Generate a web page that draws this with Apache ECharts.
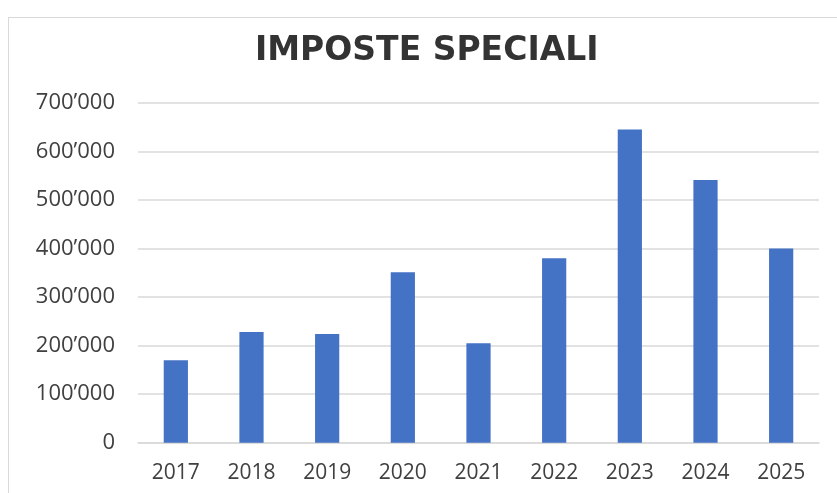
<!DOCTYPE html>
<html>
<head>
<meta charset="utf-8">
<script src="https://cdn.jsdelivr.net/npm/echarts@6/dist/echarts.min.js"></script>
<style>
  html,body{margin:0;padding:0;background:#fff;}
  #frame{position:absolute;left:8px;top:17px;width:900px;height:600px;border:1.5px solid #d9d9d9;box-sizing:border-box;}
  #chart{position:absolute;left:0;top:0;width:837px;height:493px;}
</style>
</head>
<body>
<div id="frame"></div>
<div id="chart"></div>
<script>
// anni e valori
const years = ['2017','2018','2019','2020','2021','2022','2023','2024','2025'];
const values = [170000, 228000, 224000, 351000, 205000, 380000, 645000, 541000, 400000];
const yTicks = {min: 0, max: 700000, step: 100000};

function fmt(v){
    // separatore migliaia con apostrofo
    return String(v).replace(/\B(?=(\d{3})+(?!\d))/g, '\u2019');
}

const chart = echarts.init(document.getElementById('chart'));
chart.setOption({
    animation:false,
    title:{
        text:'IMPOSTE SPECIALI',
        left:250,
        top:30,
        textStyle:{
            fontFamily:'DejaVu Sans',
            fontWeight:'bold',
            fontSize:33,
            color:'#333333'
        }
    },
    grid:{
        left:138,
        right:18,
        top:102.7,
        bottom:50.3
    },
    xAxis:{
        type:'category',
        data:years,
        axisLine:{lineStyle:{color:'#d9d9d9',width:1.5}},
        axisTick:{show:false},
        axisLabel:{
            color:'#404040',
            fontFamily:'Open Sans',
            fontSize:21,
            margin:20
        }
    },
    yAxis:{
        type:'value',
        min:yTicks.min,
        max:yTicks.max,
        interval:yTicks.step,
        axisLine:{show:false},
        axisTick:{show:false},
        splitLine:{lineStyle:{color:'#d9d9d9',width:1.5}},
        axisLabel:{
            color:'#404040',
            fontFamily:'Open Sans',
            fontSize:22,
            margin:23,
            formatter:fmt
        }
    },
    series:[{
        type:'bar',
        data:values,
        barWidth:'32%',
        itemStyle:{color:'#4472c4'}
    }]
});
</script>
</body>
</html>
